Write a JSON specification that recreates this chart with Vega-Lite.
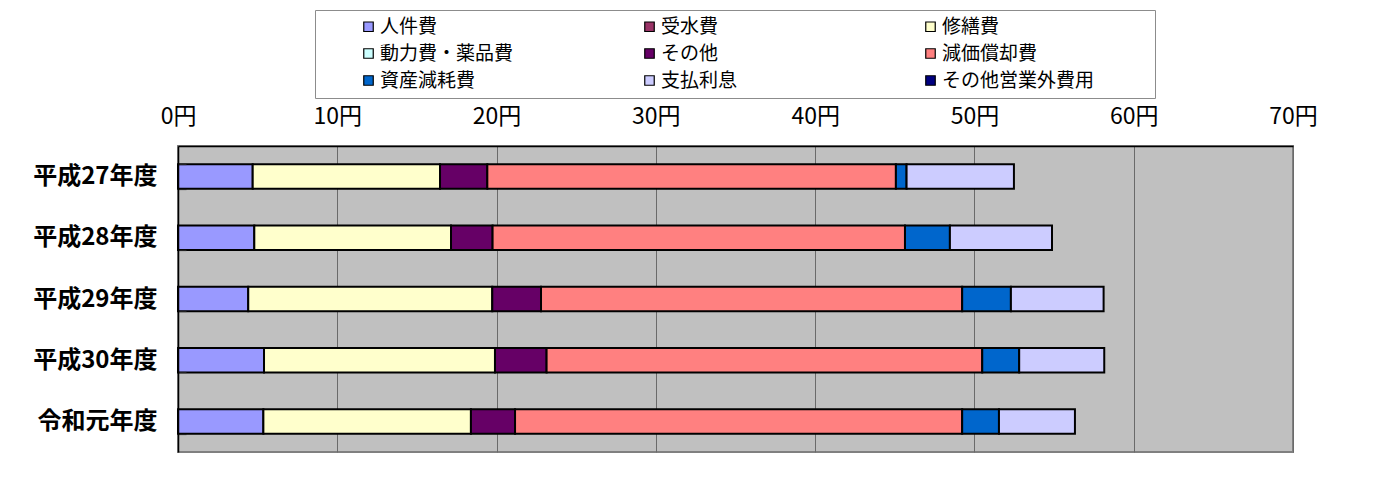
{
  "$schema": "https://vega.github.io/schema/vega-lite/v6.json",
  "width": 1115,
  "height": 306,
  "autosize": {"type": "none"},
  "padding": {"left": 178, "top": 146, "right": 99, "bottom": 30},
  "background": "white",
  "data": {
    "values": [
      {"year": "平成27年度", "item": "人件費", "k": 1, "value": 4.69},
      {"year": "平成27年度", "item": "修繕費", "k": 3, "value": 11.76},
      {"year": "平成27年度", "item": "その他", "k": 5, "value": 2.97},
      {"year": "平成27年度", "item": "減価償却費", "k": 6, "value": 25.65},
      {"year": "平成27年度", "item": "資産減耗費", "k": 7, "value": 0.67},
      {"year": "平成27年度", "item": "支払利息", "k": 8, "value": 6.74},
      {"year": "平成28年度", "item": "人件費", "k": 1, "value": 4.79},
      {"year": "平成28年度", "item": "修繕費", "k": 3, "value": 12.35},
      {"year": "平成28年度", "item": "その他", "k": 5, "value": 2.61},
      {"year": "平成28年度", "item": "減価償却費", "k": 6, "value": 25.89},
      {"year": "平成28年度", "item": "資産減耗費", "k": 7, "value": 2.82},
      {"year": "平成28年度", "item": "支払利息", "k": 8, "value": 6.41},
      {"year": "平成29年度", "item": "人件費", "k": 1, "value": 4.41},
      {"year": "平成29年度", "item": "修繕費", "k": 3, "value": 15.32},
      {"year": "平成29年度", "item": "その他", "k": 5, "value": 3.06},
      {"year": "平成29年度", "item": "減価償却費", "k": 6, "value": 26.44},
      {"year": "平成29年度", "item": "資産減耗費", "k": 7, "value": 3.06},
      {"year": "平成29年度", "item": "支払利息", "k": 8, "value": 5.82},
      {"year": "平成30年度", "item": "人件費", "k": 1, "value": 5.40},
      {"year": "平成30年度", "item": "修繕費", "k": 3, "value": 14.50},
      {"year": "平成30年度", "item": "その他", "k": 5, "value": 3.24},
      {"year": "平成30年度", "item": "減価償却費", "k": 6, "value": 27.35},
      {"year": "平成30年度", "item": "資産減耗費", "k": 7, "value": 2.32},
      {"year": "平成30年度", "item": "支払利息", "k": 8, "value": 5.34},
      {"year": "令和元年度", "item": "人件費", "k": 1, "value": 5.36},
      {"year": "令和元年度", "item": "修繕費", "k": 3, "value": 13.03},
      {"year": "令和元年度", "item": "その他", "k": 5, "value": 2.77},
      {"year": "令和元年度", "item": "減価償却費", "k": 6, "value": 28.07},
      {"year": "令和元年度", "item": "資産減耗費", "k": 7, "value": 2.31},
      {"year": "令和元年度", "item": "支払利息", "k": 8, "value": 4.77}
    ]
  },
  "mark": {"type": "bar", "stroke": "#000000", "strokeWidth": 2, "strokeJoin": "miter"},
  "encoding": {
    "y": {
      "field": "year",
      "type": "nominal",
      "sort": ["平成27年度", "平成28年度", "平成29年度", "平成30年度", "令和元年度"],
      "scale": {"paddingInner": 0.6, "paddingOuter": 0.3},
      "axis": {
        "title": null,
        "domain": true,
        "domainColor": "#000000",
        "domainWidth": 1.5,
        "ticks": true,
        "tickBand": "extent",
        "tickSize": -8,
        "tickColor": "#222222",
        "tickWidth": 1.2,
        "zindex": 1,
        "labelFont": "Noto Sans CJK JP",
        "labelFontWeight": "bold",
        "labelFontSize": 24,
        "labelColor": "#000000",
        "labelPadding": 29
      }
    },
    "x": {
      "field": "value",
      "type": "quantitative",
      "stack": "zero",
      "scale": {"domain": [0, 70], "nice": false},
      "axis": {
        "orient": "top",
        "title": null,
        "values": [0, 10, 20, 30, 40, 50, 60, 70],
        "labelExpr": "datum.value + '円'",
        "ticks": false,
        "domain": true,
        "domainColor": "#000000",
        "domainWidth": 1.5,
        "grid": true,
        "gridColor": "#6a6a6a",
        "gridWidth": 1,
        "labelFont": "Noto Sans CJK JP",
        "labelFontSize": 23,
        "labelColor": "#000000",
        "labelPadding": 18,
        "labelFlush": false
      }
    },
    "order": {"field": "k", "type": "quantitative"},
    "color": {
      "field": "item",
      "type": "nominal",
      "scale": {
        "domain": ["人件費", "受水費", "修繕費", "動力費・薬品費", "その他", "減価償却費", "資産減耗費", "支払利息", "その他営業外費用"],
        "range": ["#9999FF", "#993366", "#FFFFCC", "#CCFFFF", "#660066", "#FF8080", "#0066CC", "#CCCCFF", "#000080"]
      },
      "legend": {
        "orient": "none",
        "legendX": 137,
        "legendY": -136,
        "direction": "horizontal",
        "columns": 3,
        "gridAlign": "all",
        "title": "\u3000",
        "titleOrient": "right",
        "titlePadding": 54,
        "titleFontSize": 18,
        "strokeColor": "#8c8c8c",
        "fillColor": "#ffffff",
        "padding": 7,
        "symbolType": "square",
        "symbolSize": 90,
        "symbolStrokeColor": "#000000",
        "symbolStrokeWidth": 1.2,
        "symbolOffset": 37,
        "labelOffset": 2,
        "labelFont": "Noto Sans CJK JP",
        "labelFontSize": 19,
        "labelColor": "#000000",
        "labelLimit": 300,
        "columnPadding": 70,
        "rowPadding": 7
      }
    }
  },
  "config": {
    "view": {"fill": "#C0C0C0", "stroke": "#808080", "strokeWidth": 2}
  }
}
